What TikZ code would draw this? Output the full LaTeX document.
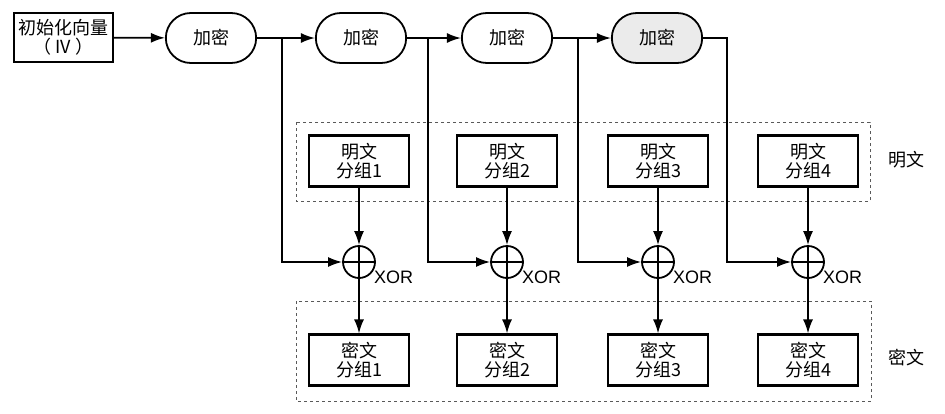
\documentclass[tikz,border=0pt]{standalone}
\usepackage{fontspec}
\setmainfont{Noto Sans CJK SC}
\newfontfamily\latinsf{Liberation Sans}
\usetikzlibrary{arrows.meta}
\usetikzlibrary{shapes.misc}
\tikzset{
    line/.style={line width=1.7pt, -{Latex[length=14pt,width=10pt]}},
    encbox/.style={
        draw, line width=1.8pt, rounded rectangle,
        minimum width=97pt, minimum height=50pt,
        font=\fontsize{18}{19}\selectfont
    },
    blockbox/.style={
        draw, line width=2.1pt, align=center, inner sep=1pt,
        minimum width=100pt, minimum height=51pt,
        font=\fontsize{18}{19}\selectfont
    },
    xorgate/.style={
        draw, circle, line width=1.8pt, minimum size=32pt, inner sep=0pt,
        path picture={\draw[line width=1.7pt]
            (path picture bounding box.north) -- (path picture bounding box.south)
            (path picture bounding box.west) -- (path picture bounding box.east);}
    },
    xorlabel/.style={anchor=west, inner sep=1pt, font=\latinsf\fontsize{18}{20}\selectfont},
    grouplabel/.style={font=\fontsize{18}{19}\selectfont},
    groupbox/.style={draw=black!65, dashed, line width=0.8pt}
}

\begin{document}
\begin{tikzpicture}[x=1pt, y=-1pt]
	\useasboundingbox (0,0) rectangle (945,413);
	
	% groups
	\draw[groupbox] (296,122) rectangle (870,201);
	\draw[groupbox] (296,301) rectangle (871,401);
	\node[grouplabel] (ptlabel) at (906,160) {明文};
	\node[grouplabel] (ctlabel) at (906,358) {密文};
	
	\node[blockbox, minimum width=99pt, minimum height=49pt] (iv) at (63.5,37.5) {初始化向量\\（ IV ）};
	
	\foreach \i/\ex/\fc in {1/211/white, 2/361/white, 3/507/white, 4/657/black!8} {
			\node[encbox, fill=\fc] (enc\i) at (\ex,38) {加密};
	}
	
	\foreach \i/\bx/\brx in {1/359/282, 2/507/428, 3/658/578, 4/808/727} {
			\coordinate (br\i) at (\brx,38);
			\node[blockbox] (pt\i) at (\bx,161) {明文\\分组\i};
			\node[xorgate] (xor\i) at (\bx,262) {};
			\node[xorlabel] (xl\i) at (\bx+14,277) {XOR};
			\node[blockbox] (ct\i) at (\bx,360) {密文\\分组\i};
			\draw[line] (pt\i) -- (xor\i);
			\draw[line] (xor\i) -- (ct\i);
	}
	
	\draw[line] (iv) -- (enc1);
	\foreach \i/\j in {1/2, 2/3, 3/4} {
			\draw[line] (enc\i) -- (enc\j);
			\draw[line] (br\i) |- (xor\i);
	}
	\draw[line] (enc4.east) -- (br4) |- (xor4);
	
\end{tikzpicture}
\end{document}
